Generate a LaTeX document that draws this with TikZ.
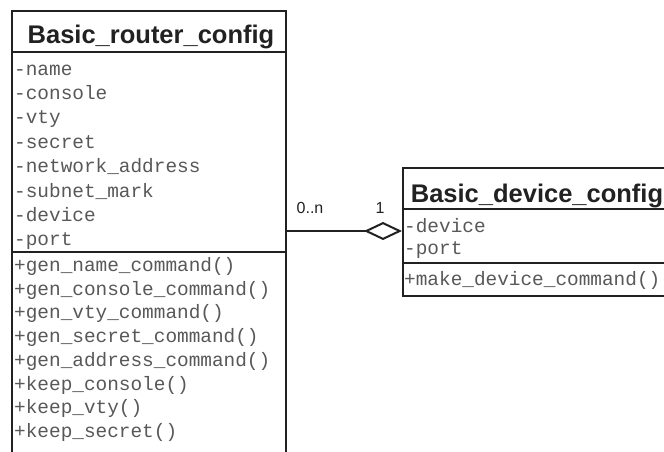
\documentclass[tikz,border=0pt]{standalone}
\usepackage{fontspec}
\newfontfamily\headfont{Liberation Sans}
\newfontfamily\memfont{Liberation Mono}
\usetikzlibrary{arrows.meta, positioning}
\definecolor{ink}{gray}{0.13}

\tikzset{
	compart/.style = {draw = ink, line width = 2.2pt, anchor = north west, inner sep = 0pt},
	ctitle/.style = {font = \headfont\bfseries\fontsize{25.5}{28}\selectfont, text = ink, anchor = base},
	member/.style = {font = \memfont\fontsize{19.4}{22}\selectfont, text = ink!75, anchor = base west, inner sep = 0pt},
	mult/.style = {font = \headfont\fontsize{16}{18}\selectfont, text = ink}
}

\begin{document}
\begin{tikzpicture}[x = 1pt, y = -1pt]
	\clip (0, 0) rectangle (664, 451);
	\fill[white] (0, 0) rectangle (664, 451);
	% router class
	\node[compart, minimum width = 274pt, minimum height = 41pt] at (11, 10) (rtitle) {};
	\node[compart, minimum width = 274pt, minimum height = 200pt] at (11, 51) (rattr) {};
	\node[compart, minimum width = 274pt, minimum height = 230pt] at (11, 251) (rmeth) {};
	\node[ctitle] at (151, 43) (rname) {Basic\_router\_config};
	\foreach \t [count = \i] in {-name, -console, -vty, -secret, -network\_address, -subnet\_mark, -device, -port}
		\node[member] at (14, 50.6 + 24.4*\i) (ra\i) {\t};
	\foreach \t [count = \i] in {+gen\_name\_command(), +gen\_console\_command(), +gen\_vty\_command(), +gen\_secret\_command(), +gen\_address\_command(), +keep\_console(), +keep\_vty(), +keep\_secret()}
		\node[member] at (14, 247.8 + 23.7*\i) (rm\i) {\t};
	% device class
	\node[compart, minimum width = 290pt, minimum height = 41pt] at (402, 167) (dtitle) {};
	\node[compart, minimum width = 290pt, minimum height = 54pt] at (402, 208) (dattr) {};
	\node[compart, minimum width = 290pt, minimum height = 33pt] at (402, 262) (dmeth) {};
	\node[ctitle] at (537, 202) (dname) {Basic\_device\_config};
	\node[member] at (404, 232) (da1) {-device};
	\node[member] at (404, 254) (da2) {-port};
	\node[member] at (404, 285) (dm1) {+make\_device\_command()};
	% aggregation
	\coordinate (agg) at (dattr.west |- 0, 231);
	\draw[ink, line width = 2pt, -{Diamond[open, length = 38pt, width = 18pt, line width = 2pt]}] (rattr.east |- agg) -- (agg);
	\node[mult] at (310, 208) (m0) {0..n};
	\node[mult] at (380, 208) (m1) {1};
\end{tikzpicture}
\end{document}
